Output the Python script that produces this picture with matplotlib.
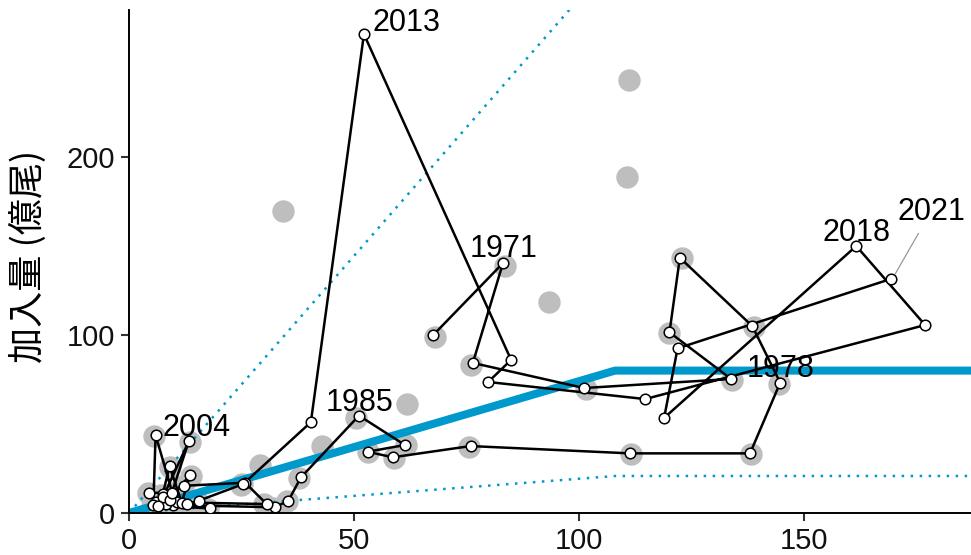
import numpy as np
import matplotlib
matplotlib.use('Agg')
import matplotlib.pyplot as plt

plt.rcParams['font.family'] = ['Liberation Sans', 'Noto Sans CJK JP', 'DejaVu Sans']

# spawning stock (x) and recruitment (y), 1970-2021, in year order
years = list(range(1970, 2022))
ssb = [67.6, 83.1, 76.4, 101.1, 133.8, 120.1, 122.4, 138.5, 144.7, 138.0,
       111.3, 75.9, 58.6, 53.0, 61.3, 51.1, 38.2, 35.4, 32.4, 9.8,
       6.0, 10.6, 30.6, 25.8, 12.3, 7.5, 9.0, 11.7, 13.6, 8.2,
       7.6, 13.3, 9.0, 5.4, 5.9, 9.6, 4.5, 6.5, 18.1, 12.8,
       15.5, 25.4, 40.4, 52.2, 84.9, 79.8, 114.7, 176.9, 161.6, 118.9,
       121.9, 169.3]
rec = [100.0, 140.4, 84.3, 70.2, 75.3, 101.5, 143.4, 105.0, 73.2, 33.5,
       33.5, 37.6, 31.3, 34.4, 38.2, 54.7, 20.0, 6.9, 3.2, 4.5,
       6.2, 6.0, 5.0, 17.0, 15.3, 10.5, 26.4, 5.8, 21.5, 5.2,
       9.2, 40.4, 7.5, 4.5, 43.8, 11.5, 11.3, 4.0, 2.6, 4.8,
       6.9, 16.3, 51.0, 269.0, 86.0, 73.6, 64.0, 105.6, 150.0, 53.4,
       92.5, 131.5]

# previous estimates (grey)
ssb_old = [68.0, 83.5, 76.0, 101.5, 134.0, 120.0, 122.8, 138.8, 144.5, 138.3,
           111.5, 75.5, 58.8, 53.0, 61.5, 50.5, 37.8, 35.0, 32.0, 9.5,
           5.5, 10.2, 30.0, 25.0, 12.0, 7.0, 9.0, 11.5, 13.8, 8.0,
           7.2, 13.5, 9.2, 5.0, 5.6, 9.6, 4.2, 6.0, 17.5, 12.5,
           15.0, 24.8, 42.8, 34.2, 61.7, 93.3, 111.1, 110.7, 29.2]
rec_old = [99.0, 139.0, 83.0, 69.5, 74.5, 101.0, 143.0, 104.5, 72.5, 33.0,
           33.0, 37.0, 31.0, 34.0, 38.0, 53.5, 19.5, 6.5, 3.0, 4.0,
           6.0, 5.5, 4.8, 16.5, 15.0, 10.0, 26.0, 5.5, 21.0, 5.0,
           9.0, 40.0, 7.0, 4.2, 43.5, 11.0, 11.0, 3.8, 2.5, 4.5,
           6.5, 16.0, 37.5, 169.7, 61.2, 118.5, 243.3, 188.8, 26.8]

# hockey-stick SR relation and its band
hs_break = 108.0
hs_level = 80.0
band_lo, band_hi = 0.26, 3.9

# labelled years and where the text sits
lab_years = [1971, 1978, 1985, 2004, 2013, 2018, 2021]
lab_x = [83.2, 144.7, 51.3, 14.9, 61.6, 161.6, 178.4]
lab_y = [148.5, 81.0, 62.0, 48.0, 275.5, 157.5, 169.0]

blue = '#0099cc'

fig = plt.figure(figsize=(9.71, 5.55), dpi=100)
ax = fig.add_axes([0.1329, 0.0757, 0.8671, 0.9063])

xs = np.linspace(0, 190, 400)
hs = np.minimum(xs * hs_level / hs_break, hs_level)
ax.plot(xs, hs, color=blue, lw=5.8, zorder=2, solid_capstyle='butt')
ax.plot(xs, hs * band_hi, color=blue, lw=1.8, ls=(0, (1, 2.6)), zorder=2)
ax.plot(xs, hs * band_lo, color=blue, lw=1.8, ls=(0, (1, 2.6)), zorder=2)

ax.scatter(ssb_old, rec_old, s=260, color='#bebebe', lw=0, zorder=1)
ax.plot(ssb, rec, color='black', lw=1.8, zorder=3)
ax.scatter(ssb, rec, s=58, facecolor='white', edgecolor='black', lw=1.1, zorder=4)

for yr, tx, ty in zip(lab_years, lab_x, lab_y):
    i = years.index(yr)
    if yr == 2021:
        ax.plot([ssb[i] + 1.0, tx - 3.0], [rec[i] + 3, ty - 12], color='#999999', lw=0.9, zorder=3)
    ax.text(tx, ty, str(yr), fontsize=22, ha='center', va='center', zorder=5)

ax.set_xlim(0, 187.1)
ax.set_ylim(0, 282.6)
ax.set_xticks([0, 50, 100, 150])
ax.set_yticks([0, 100, 200])
ax.tick_params(labelsize=21, length=6, width=1.5, pad=4, color='#333333', labelcolor='#111111')
for s in ['top', 'right']:
    ax.spines[s].set_visible(False)
for s in ['left', 'bottom']:
    ax.spines[s].set_linewidth(1.4)
ax.set_ylabel('加入量 (億尾)', fontsize=26, family=['Noto Sans CJK JP', 'DejaVu Sans'])
ax.yaxis.set_label_coords(-0.098, 0.51)

fig.savefig('out.png', dpi=100)
